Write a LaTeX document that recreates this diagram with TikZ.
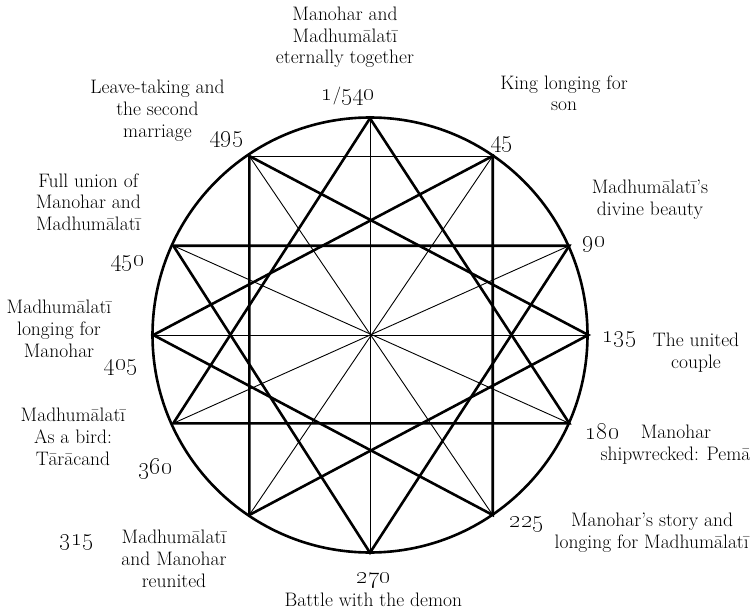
\documentclass[tikz,border=0pt]{standalone}
\tikzset{
  heavy/.style={line width=2.6pt, line join=miter},
  light/.style={line width=0.9pt},
  lbl/.style={font=\fontsize{19.5}{22}\selectfont, inner sep=0pt, anchor=base},
  num/.style={font=\fontsize{25}{26}\selectfont, inner sep=0pt, anchor=center},
}
\begin{document}
\begin{tikzpicture}[x=1pt,y=-1pt]
\useasboundingbox (0,0) rectangle (755,615);
% points on the circle
\coordinate (C) at (370,335);
\coordinate (p1) at (370,118.3);
\coordinate (p45) at (492.7,156);
\coordinate (p90) at (569.3,245.7);
\coordinate (p135) at (588.3,335);
\coordinate (p180) at (569.3,423.3);
\coordinate (p225) at (492.7,515);
\coordinate (p270) at (370,552.7);
\coordinate (p315) at (249.3,515);
\coordinate (p360) at (173.3,423.3);
\coordinate (p405) at (153.3,335);
\coordinate (p450) at (173.3,245.7);
\coordinate (p495) at (249.3,156);
% thin lines: diameters and top chord
\draw[light] (p1) -- (p270);
\draw[light] (p405) -- (p135);
\draw[light] (p495) -- (p225);
\draw[light] (p45) -- (p315);
\draw[light] (p450) -- (p180);
\draw[light] (p90) -- (p360);
\draw[light] (p495) -- (p45);
% circle
\draw[heavy] (C) circle[radius=217.5];
% four triangles
\draw[heavy] (p1) -- (p360) -- (p180) -- cycle;
\draw[heavy] (p270) -- (p450) -- (p90) -- cycle;
\draw[heavy] (p495) -- (p135) -- (p315) -- cycle;
\draw[heavy] (p45) -- (p405) -- (p225) -- cycle;
% numbers
\node[num] (n1) at (348.4,96) {\oldstylenums{1}{\fontsize{18}{20}\selectfont/}\oldstylenums{540}};
\node[num] (n45) at (501.7,144.5) {\oldstylenums{45}};
\node[num] (n90) at (594,245) {\oldstylenums{90}};
\node[num] (n135) at (619.5,340) {\oldstylenums{135}};
\node[num] (n180) at (602.5,431) {\oldstylenums{180}};
\node[num] (n225) at (527,525) {\oldstylenums{225}};
\node[num] (n270) at (374,580.5) {\oldstylenums{270}};
\node[num] (n315) at (77,542.5) {\oldstylenums{315}};
\node[num] (n360) at (155.5,469) {\oldstylenums{360}};
\node[num] (n405) at (121,367.5) {\oldstylenums{405}};
\node[num] (n450) at (127.5,263.5) {\oldstylenums{450}};
\node[num] (n495) at (226.5,140) {\oldstylenums{495}};
% labels
\node[lbl] (t1a) at (345,21) {Manohar and};
\node[lbl] (t1b) at (345,42.5) {Madhumālatī};
\node[lbl] (t1c) at (345,64) {eternally together};
\node[lbl] (t45a) at (564,89.5) {King longing for};
\node[lbl] (t45b) at (564,111) {son};
\node[lbl] (t90a) at (650,193.5) {Madhumālatī’s};
\node[lbl] (t90b) at (650,215) {divine beauty};
\node[lbl] (t135a) at (696,346.5) {The united};
\node[lbl] (t135b) at (696,368) {couple};
\node[lbl] (t180a) at (676,438) {Manohar};
\node[lbl] (t180b) at (675.5,460) {shipwrecked: Pemā};
\node[lbl] (t225a) at (652,526.7) {Manohar’s story and};
\node[lbl] (t225b) at (651.7,548.3) {longing for Madhumālatī};
\node[lbl] (t270a) at (373.3,606.5) {Battle with the demon};
\node[lbl] (t315a) at (174,543.5) {Madhumālatī};
\node[lbl] (t315b) at (174,565.5) {and Manohar};
\node[lbl] (t315c) at (174,587.5) {reunited};
\node[lbl] (t360a) at (73,421.5) {Madhumālatī};
\node[lbl] (t360b) at (73,443.5) {As a bird:};
\node[lbl] (t360c) at (73,465.5) {Tārācand};
\node[lbl] (t405a) at (59,313) {Madhumālatī};
\node[lbl] (t405b) at (59,335) {longing for};
\node[lbl] (t405c) at (59,357) {Manohar};
\node[lbl] (t450a) at (88.3,187.5) {Full union of};
\node[lbl] (t450b) at (88.3,208.5) {Manohar and};
\node[lbl] (t450c) at (88.3,230) {Madhumālatī};
\node[lbl] (t495a) at (157.5,93.3) {Leave-taking and};
\node[lbl] (t495b) at (157.5,115.5) {the second};
\node[lbl] (t495c) at (157.5,137.3) {marriage};
\end{tikzpicture}
\end{document}
